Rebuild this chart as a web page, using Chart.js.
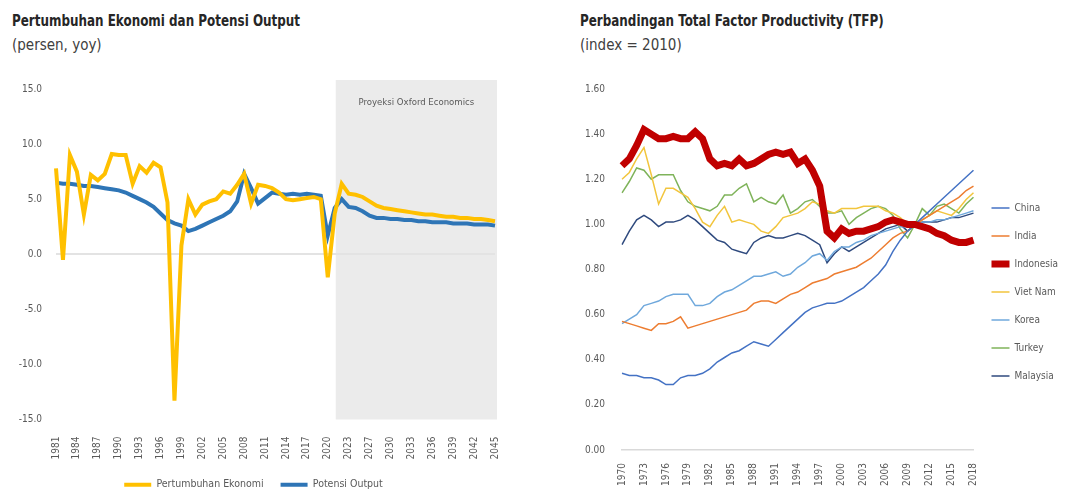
<!DOCTYPE html>
<html>
<head>
<meta charset="utf-8">
<script src="https://cdn.jsdelivr.net/npm/chart.js@4.4.1/dist/chart.umd.min.js"></script>
<style>
  html, body { margin: 0; padding: 0; background: #fff; }
  body { width: 1065px; height: 495px; position: relative; overflow: hidden;
         font-family: 'DejaVu Sans Condensed', sans-serif; }
  .title { position: absolute; font-weight: bold; font-size: 15px; color: #262626; white-space: nowrap;
           transform: scaleX(0.885); transform-origin: left top; }
  .sub { position: absolute; font-size: 15px; color: #404040; white-space: nowrap; }
  canvas { position: absolute; top: 0; }
</style>
</head>
<body>
<div class="title" style="left:12px;top:12px">Pertumbuhan Ekonomi dan Potensi Output</div>
<div class="sub" style="left:12px;top:36px">(persen, yoy)</div>
<div class="title" style="left:580px;top:12px">Perbandingan Total Factor Productivity (TFP)</div>
<div class="sub" style="left:580px;top:36px">(index = 2010)</div>
<div style="position:absolute;left:0;top:0;width:540px;height:500px"><canvas id="growthChart"></canvas></div>
<div style="position:absolute;left:540px;top:0;width:528px;height:495px"><canvas id="tfpChart"></canvas></div>
<script>
const FONT = "'DejaVu Sans Condensed', sans-serif";

// ---- left chart data ----
const growthYears = ['1981','1982','1983','1984','1985','1986','1987','1988','1989','1990',
  '1991','1992','1993','1994','1995','1996','1997','1998','1999','2000',
  '2001','2002','2003','2004','2005','2006','2007','2008','2009','2010',
  '2011','2012','2013','2014','2015','2016','2017','2018','2019','2020',
  '2021','2022','2023','2025','2026','2027','2028','2029','2030','2031',
  '2032','2033','2034','2035','2036','2037','2038','2039','2040','2041',
  '2042','2043','2044','2045'];
const growth = [7.8, -0.5, 9.0, 7.5, 3.6, 7.2, 6.7, 7.3, 9.1, 9.0,
  9.0, 6.4, 8.0, 7.4, 8.3, 7.9, 4.7, -13.3, 0.8, 5.0,
  3.6, 4.5, 4.8, 5.0, 5.7, 5.5, 6.3, 7.3, 4.6, 6.3,
  6.2, 6.0, 5.6, 5.0, 4.9, 5.0, 5.1, 5.2, 5.0, -2.1,
  3.7, 6.4, 5.5, 5.4, 5.2, 4.8, 4.4, 4.2, 4.1, 4.0,
  3.9, 3.8, 3.7, 3.6, 3.6, 3.5, 3.4, 3.4, 3.3, 3.3,
  3.2, 3.2, 3.1, 3.0];
const potential = [6.5, 6.4, 6.4, 6.3, 6.2, 6.2, 6.1, 6.0, 5.9, 5.8,
  5.6, 5.3, 5.0, 4.7, 4.3, 3.7, 3.1, 2.8, 2.6, 2.1,
  2.3, 2.6, 2.9, 3.2, 3.5, 3.9, 4.8, 7.3, 6.0, 4.6,
  5.1, 5.6, 5.5, 5.4, 5.5, 5.4, 5.5, 5.4, 5.3, 1.7,
  4.2, 5.0, 4.3, 4.2, 3.9, 3.5, 3.3, 3.3, 3.2, 3.2,
  3.1, 3.1, 3.0, 3.0, 2.9, 2.9, 2.9, 2.8, 2.8, 2.8,
  2.7, 2.7, 2.7, 2.6];
const growthTicks = [-15, -10, -5, 0, 5, 10, 15];
const projectionStart = '2021';

// ---- right chart data ----
const tfpYears = ['1970','1971','1972','1973','1974','1975','1976','1977','1978','1979',
  '1980','1981','1982','1983','1984','1985','1986','1987','1988','1989',
  '1990','1991','1992','1993','1994','1995','1996','1997','1998','1999',
  '2000','2001','2002','2003','2004','2005','2006','2007','2008','2009',
  '2010','2011','2012','2013','2014','2015','2016','2017','2018'];
const china = [0.34, 0.33, 0.33, 0.32, 0.32, 0.31, 0.29, 0.29, 0.32, 0.33,
  0.33, 0.34, 0.36, 0.39, 0.41, 0.43, 0.44, 0.46, 0.48, 0.47,
  0.46, 0.49, 0.52, 0.55, 0.58, 0.61, 0.63, 0.64, 0.65, 0.65,
  0.66, 0.68, 0.70, 0.72, 0.75, 0.78, 0.82, 0.88, 0.93, 0.97,
  1.00, 1.03, 1.06, 1.09, 1.12, 1.15, 1.18, 1.21, 1.24];
const india = [0.57, 0.56, 0.55, 0.54, 0.53, 0.56, 0.56, 0.57, 0.59, 0.54,
  0.55, 0.56, 0.57, 0.58, 0.59, 0.60, 0.61, 0.62, 0.65, 0.66,
  0.66, 0.65, 0.67, 0.69, 0.70, 0.72, 0.74, 0.75, 0.76, 0.78,
  0.79, 0.80, 0.81, 0.83, 0.85, 0.88, 0.91, 0.94, 0.96, 0.97,
  1.00, 1.02, 1.04, 1.06, 1.08, 1.10, 1.12, 1.15, 1.17];
const indonesia = [1.26, 1.29, 1.35, 1.42, 1.40, 1.38, 1.38, 1.39, 1.38, 1.38,
  1.41, 1.38, 1.29, 1.26, 1.27, 1.26, 1.29, 1.26, 1.27, 1.29,
  1.31, 1.32, 1.31, 1.32, 1.27, 1.29, 1.24, 1.17, 0.97, 0.94,
  0.98, 0.96, 0.97, 0.97, 0.98, 0.99, 1.01, 1.02, 1.01, 1.00,
  1.00, 0.99, 0.98, 0.96, 0.95, 0.93, 0.92, 0.92, 0.93];
const vietnam = [1.20, 1.23, 1.29, 1.34, 1.22, 1.09, 1.16, 1.16, 1.14, 1.12,
  1.07, 1.01, 0.99, 1.04, 1.08, 1.01, 1.02, 1.01, 1.00, 0.97,
  0.96, 0.99, 1.03, 1.04, 1.05, 1.07, 1.10, 1.09, 1.06, 1.05,
  1.07, 1.07, 1.07, 1.08, 1.08, 1.08, 1.06, 1.05, 1.03, 1.00,
  1.00, 1.02, 1.04, 1.06, 1.05, 1.04, 1.07, 1.11, 1.14];
const korea = [0.56, 0.58, 0.60, 0.64, 0.65, 0.66, 0.68, 0.69, 0.69, 0.69,
  0.64, 0.64, 0.65, 0.68, 0.70, 0.71, 0.73, 0.75, 0.77, 0.77,
  0.78, 0.79, 0.77, 0.78, 0.81, 0.83, 0.86, 0.87, 0.84, 0.88,
  0.90, 0.90, 0.92, 0.93, 0.95, 0.96, 0.97, 0.98, 0.99, 0.99,
  1.00, 1.01, 1.01, 1.02, 1.02, 1.03, 1.04, 1.05, 1.06];
const turkey = [1.14, 1.19, 1.25, 1.24, 1.20, 1.22, 1.22, 1.22, 1.15, 1.10,
  1.08, 1.07, 1.06, 1.08, 1.13, 1.13, 1.16, 1.18, 1.10, 1.12,
  1.10, 1.09, 1.13, 1.05, 1.07, 1.10, 1.11, 1.08, 1.05, 1.05,
  1.06, 1.00, 1.03, 1.05, 1.07, 1.08, 1.07, 1.04, 0.98, 0.94,
  1.00, 1.07, 1.04, 1.08, 1.09, 1.07, 1.05, 1.09, 1.12];
const malaysia = [0.91, 0.97, 1.02, 1.04, 1.02, 0.99, 1.01, 1.01, 1.02, 1.04,
  1.02, 0.99, 0.96, 0.93, 0.92, 0.89, 0.88, 0.87, 0.92, 0.94,
  0.95, 0.94, 0.94, 0.95, 0.96, 0.95, 0.93, 0.91, 0.83, 0.87,
  0.90, 0.88, 0.90, 0.92, 0.94, 0.96, 0.98, 0.99, 1.00, 0.97,
  1.00, 1.01, 1.01, 1.01, 1.02, 1.03, 1.03, 1.04, 1.05];

const tickColor = '#595959';

// grey box behind the forecast years
const shadePlugin = {
  id: 'shade',
  beforeDraw(chart) {
    const { ctx, chartArea, scales: { x } } = chart;
    const left = x.getPixelForValue(growthYears.indexOf(projectionStart)) + 1;
    ctx.save();
    ctx.fillStyle = '#ebebeb';
    ctx.fillRect(left, chartArea.top - 9, chartArea.right + 2 - left, chartArea.bottom - chartArea.top + 9);
    ctx.fillStyle = tickColor;
    ctx.font = '9.5px ' + FONT;
    ctx.textAlign = 'center';
    ctx.textBaseline = 'middle';
    ctx.fillText('Proyeksi Oxford Economics', (left + chartArea.right) / 2 + 1, chartArea.top + 14);
    ctx.restore();
  }
};

const everyThird = function(value, index) {
  return index % 3 === 0 ? this.getLabelForValue(value) : '';
};

new Chart(document.getElementById('growthChart'), {
  type: 'line',
  data: {
    labels: growthYears,
    datasets: [
      { label: 'Pertumbuhan Ekonomi', data: growth, borderColor: '#ffc000', backgroundColor: '#ffc000', borderWidth: 4 },
      { label: 'Potensi Output', data: potential, borderColor: '#2e75b6', backgroundColor: '#2e75b6', borderWidth: 4 }
    ]
  },
  options: {
    responsive: true,
    maintainAspectRatio: false,
    animation: false,
    elements: { point: { radius: 0 }, line: { tension: 0 } },
    layout: { padding: { left: 12, top: 89, right: 45, bottom: 0 } },
    scales: {
      x: {
        grid: { display: false },
        border: { display: false },
        ticks: {
          autoSkip: false, maxRotation: 90, minRotation: 90, padding: 9,
          color: tickColor, font: { family: FONT, size: 10 },
          callback: everyThird
        },
        afterFit: (axis) => { axis.height = 43; }
      },
      y: {
        min: -15, max: 15,
        afterBuildTicks: (axis) => { axis.ticks = growthTicks.map(v => ({ value: v })); },
        grid: { drawTicks: false, color: (c) => c.tick && c.tick.value === 0 ? '#e3e3e3' : 'transparent', lineWidth: 2 },
        border: { display: false },
        ticks: { padding: 14, color: tickColor, font: { family: FONT, size: 10 }, callback: (v) => v.toFixed(1) },
        afterFit: (axis) => { axis.width = 44; }
      }
    },
    plugins: {
      legend: {
        position: 'bottom',
        labels: {
          usePointStyle: true, pointStyle: 'line', pointStyleWidth: 27, padding: 17,
          color: tickColor, font: { family: FONT, size: 10.5 }
        }
      },
      tooltip: { enabled: false }
    }
  },
  plugins: [shadePlugin]
});

const tfpSeries = [
  { label: 'China', data: china, color: '#4472c4', width: 1.5 },
  { label: 'India', data: india, color: '#ed7d31', width: 1.5 },
  { label: 'Indonesia', data: indonesia, color: '#c00000', width: 7 },
  { label: 'Viet Nam', data: vietnam, color: '#f2c53d', width: 1.5 },
  { label: 'Korea', data: korea, color: '#6fa8dc', width: 1.5 },
  { label: 'Turkey', data: turkey, color: '#7fb35a', width: 1.5 },
  { label: 'Malaysia', data: malaysia, color: '#2f4a7e', width: 1.5 }
];

new Chart(document.getElementById('tfpChart'), {
  type: 'line',
  data: {
    labels: tfpYears,
    datasets: tfpSeries.map(s => ({
      label: s.label, data: s.data, borderColor: s.color, backgroundColor: s.color,
      borderWidth: s.width, order: s.label === 'Indonesia' ? -1 : 0
    }))
  },
  options: {
    responsive: true,
    maintainAspectRatio: false,
    animation: false,
    elements: { point: { radius: 0 }, line: { tension: 0 } },
    layout: { padding: { left: 40, top: 89, right: 0, bottom: 0 } },
    scales: {
      x: {
        grid: { display: false },
        border: { display: true, color: '#d9d9d9', width: 1.5 },
        ticks: {
          autoSkip: false, maxRotation: 90, minRotation: 90, padding: 5,
          color: tickColor, font: { family: FONT, size: 10 },
          callback: everyThird
        },
        afterFit: (axis) => { axis.height = 45; }
      },
      y: {
        min: 0, max: 1.6,
        grid: { display: false, drawTicks: false },
        border: { display: false },
        ticks: { stepSize: 0.2, padding: 17, color: tickColor, font: { family: FONT, size: 10 }, callback: (v) => v.toFixed(2) },
        afterFit: (axis) => { axis.width = 42; }
      }
    },
    plugins: {
      legend: {
        position: 'right',
        labels: {
          usePointStyle: true, pointStyle: 'line', pointStyleWidth: 18, padding: 18,
          color: tickColor, font: { family: FONT, size: 10 },
          sort: (a, b) => a.datasetIndex - b.datasetIndex
        }
      },
      tooltip: { enabled: false }
    }
  }
});
</script>
</body>
</html>
